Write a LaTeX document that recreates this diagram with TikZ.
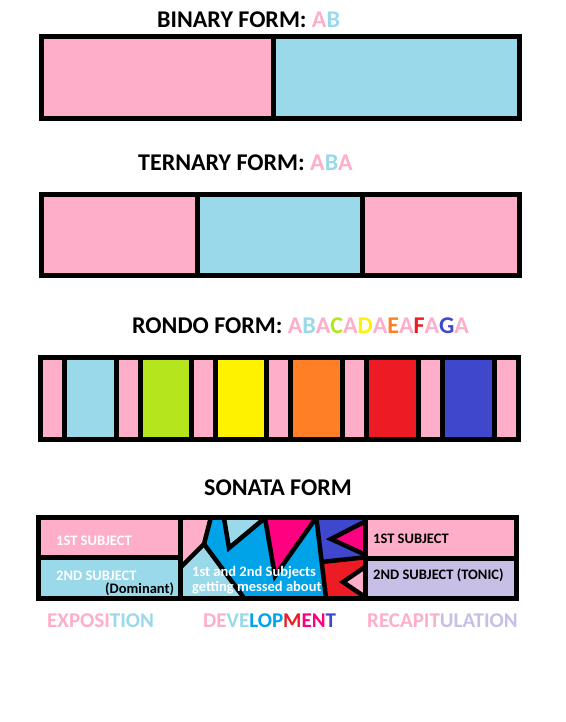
\documentclass[tikz,border=0pt]{standalone}
\usepackage{fontspec}
\setmainfont{Carlito}
\usetikzlibrary{calc}
\definecolor{cPk}{RGB}{255,174,201}
\definecolor{cLb}{RGB}{153,217,234}
\definecolor{cGr}{RGB}{181,230,29}
\definecolor{cYe}{RGB}{255,242,0}
\definecolor{cOr}{RGB}{255,127,39}
\definecolor{cRd}{RGB}{237,28,36}
\definecolor{cIn}{RGB}{63,72,204}
\definecolor{cMb}{RGB}{0,162,232}
\definecolor{cMg}{RGB}{255,0,128}
\definecolor{cLv}{RGB}{200,191,231}
\tikzset{
  frame/.style={draw=black,line width=5pt},
  blk/.style={draw=black,line width=4.5pt,line join=miter},
  title/.style={anchor=base west,inner sep=0pt,font=\bfseries\fontsize{24}{28}\selectfont},
  lab/.style={anchor=base west,inner sep=0pt,font=\bfseries\fontsize{21}{25}\selectfont},
  sub/.style={anchor=base west,inner sep=0pt,font=\bfseries\fontsize{14.5}{17}\selectfont},
}
\begin{document}
\begin{tikzpicture}[x=1pt,y=-1pt]
\useasboundingbox (0,0) rectangle (565,722);
\fill[white] (0,0) rectangle (565,722);
% ---------- binary ----------
\node[title] (tb) at (157,28) {BINARY FORM: \textcolor{cPk}{A}\textcolor{cLb}{B}};
\fill[cPk] (41.5,36.5) rectangle (273.5,118.2);
\fill[cLb] (273.5,36.5) rectangle (519.2,118.2);
\draw[frame] (41.5,36.5) rectangle (519.2,118.2);
\draw[frame] (273.5,36.5) -- (273.5,118.2);
% ---------- ternary ----------
\node[title] (tt) at (138,171) {TERNARY FORM: \textcolor{cPk}{A}\textcolor{cLb}{B}\textcolor{cPk}{A}};
\fill[cPk] (41.5,194.5) rectangle (197.5,275.8);
\fill[cLb] (197.5,194.5) rectangle (362.5,275.8);
\fill[cPk] (362.5,194.5) rectangle (519.2,275.8);
\draw[frame] (41.5,194.5) rectangle (519.2,275.8);
\draw[frame] (197.5,194.5) -- (197.5,275.8);
\draw[frame] (362.5,194.5) -- (362.5,275.8);
% ---------- rondo ----------
\node[title] (tr) at (132,333) {RONDO FORM: \textcolor{cPk}{A}\textcolor{cLb}{B}\textcolor{cPk}{A}\textcolor{cGr}{C}\textcolor{cPk}{A}\textcolor{cYe}{D}\textcolor{cPk}{A}\textcolor{cOr}{E}\textcolor{cPk}{A}\textcolor{cRd}{F}\textcolor{cPk}{A}\textcolor{cIn}{G}\textcolor{cPk}{A}};
\fill[black] (38,355) rectangle (521,442);
\foreach \a/\b/\c in {43/62/cPk,67/114/cLb,119/138/cPk,143/189/cGr,194/213/cPk,218/264/cYe,269/288/cPk,293/340/cOr,345/364/cPk,369/416/cRd,421/440/cPk,445/492/cIn,497/516/cPk}
  \fill[\c] (\a,360) rectangle (\b,437);
% ---------- sonata ----------
\node[title] (ts) at (204,495) {SONATA FORM};
\fill[cPk] (38.5,517.5) rectangle (180.5,557.5);
\fill[cLb] (38.5,557.5) rectangle (180.5,598.5);
\fill[cPk] (365.5,517.5) rectangle (516.5,558.5);
\fill[cLv] (365.5,558.5) rectangle (516.5,598.5);
\begin{scope}
\clip (180.5,517.5) rectangle (365.5,598.5);
\fill[cMb] (180,515) rectangle (368,602);
\fill[cPk] (180,515) -- (211.5,515) -- (204,544) -- (180,568) -- cycle;
\fill[cLb] (180,568) -- (204,544) -- (247,602) -- (180,602) -- cycle;
\fill[cLb] (223.5,515) -- (229,548) -- (268,515) -- cycle;
\fill[cMg] (264,515) -- (275,576) -- (318,515) -- cycle;
\fill[cIn] (316,515) -- (368,515) -- (368,557) -- (321.4,562) -- cycle;
\fill[cRd] (321.4,562) -- (368,557) -- (368,602) -- (326.5,602) -- cycle;
\fill[cMg] (368,520) -- (331,539) -- (368,556) -- cycle;
\fill[cPk] (368,565) -- (343,582) -- (368,599) -- cycle;
\draw[blk] (180,568) -- (204,544) -- (211.5,515);
\draw[blk] (204,544) -- (247,602);
\draw[blk] (223.5,515) -- (229,548) -- (265,518) -- (275,576) -- (316,518);
\draw[blk] (316,515) -- (326.5,602);
\draw[blk] (321.4,562) -- (368,557);
\draw[blk] (368,520) -- (331,539) -- (368,556);
\draw[blk] (368,565) -- (343,582) -- (368,599);
\end{scope}
\draw[frame] (38.5,517.5) rectangle (516.5,598.5);
\draw[frame] (180.5,517.5) -- (180.5,598.5);
\draw[frame] (365.5,517.5) -- (365.5,598.5);
\draw[frame] (38.5,557.5) -- (180.5,557.5);
\draw[frame] (365.5,558.5) -- (516.5,558.5);
\node[sub,white] (s1) at (56,545) {1ST SUBJECT};
\node[sub,white] (s2) at (56,580) {2ND SUBJECT};
\node[sub,black] (s3) at (105,593.5) {(Dominant)};
\node[sub,white] (s4) at (192,576) {1st and 2nd Subjects};
\node[sub,white] (s5) at (192,591) {getting messed about};
\node[sub,black] (s6) at (373,543) {1ST SUBJECT};
\node[sub,black] (s7) at (373,579) {2ND SUBJECT (TONIC)};
% ---------- bottom labels ----------
\node[lab] (l1) at (47,627) {\textcolor{cPk}{EXPOSI}\textcolor{cLb}{TION}};
\node[lab] (l2) at (203,627) {\textcolor{cPk}{DE}\textcolor{cLb}{VE}\textcolor{cMb}{LOP}\textcolor{cRd}{M}\textcolor{cMg}{EN}\textcolor{cIn}{T}};
\node[lab] (l3) at (367,627) {\textcolor{cPk}{RECAPIT}\textcolor{cLv}{ULATION}};
\end{tikzpicture}
\end{document}
